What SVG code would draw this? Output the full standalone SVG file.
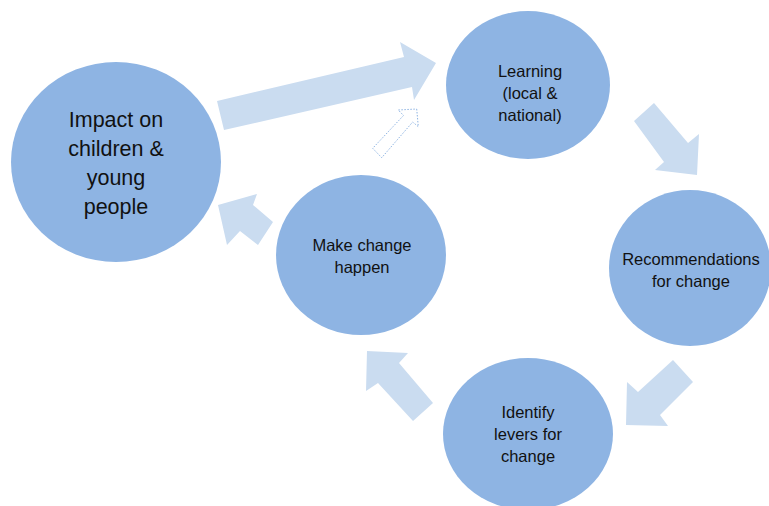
<svg xmlns="http://www.w3.org/2000/svg" width="769" height="506" viewBox="0 0 769 506">
<style>
.node{fill:#8eb4e3}
.arr{fill:#cadcf0;stroke:none}
.dash{fill:#ffffff;stroke:#8eb4e3;stroke-width:1;stroke-dasharray:1.5 1.5}
.t{font-family:"Liberation Sans",Arial,sans-serif;font-size:16.5px;fill:#111;text-anchor:middle}
.big{font-size:21.5px}
</style>
<rect width="769" height="506" fill="#ffffff"/>
<g id="connectors">
<polygon class="arr" points="217,101 404,57 400,42 436,63 414,100 412,87 224,130"/>
<polygon class="dash" points="416.7,109 418.3,126.7 412.7,122 381.7,157.7 372.7,148.3 403.5,115.5 398.3,110"/>
<polygon class="arr" points="634,121 654,103 688,143 699,134 697,175 655,170 664,162"/>
<polygon class="arr" points="673,360 693,382 660,415 668,426 626,425 627,382 638,392"/>
<polygon class="arr" points="367,351 408,353 399,363 433,403 413,421 378,383 366,391"/>
<polygon class="arr" points="218,205 257,194 253,205 273,222 258,245 240,231 227,245"/>
</g>
<g id="impact">
<ellipse class="node" cx="116" cy="162" rx="105" ry="100"/>
<text class="t big" x="116" y="127">Impact on</text>
<text class="t big" x="116" y="156">children &amp;</text>
<text class="t big" x="116" y="185">young</text>
<text class="t big" x="116" y="214">people</text>
</g>
<g id="learning">
<ellipse class="node" cx="528" cy="85" rx="82" ry="74"/>
<text class="t" x="530" y="77">Learning</text>
<text class="t" x="530" y="99">(local &amp;</text>
<text class="t" x="530" y="121">national)</text>
</g>
<g id="recommendations">
<ellipse class="node" cx="690" cy="268" rx="81" ry="78"/>
<text class="t" x="691" y="265">Recommendations</text>
<text class="t" x="691" y="287">for change</text>
</g>
<g id="identify">
<ellipse class="node" cx="528" cy="434" rx="85" ry="76"/>
<text class="t" x="528" y="418">Identify</text>
<text class="t" x="528" y="440">levers for</text>
<text class="t" x="528" y="462">change</text>
</g>
<g id="make">
<ellipse class="node" cx="361" cy="255" rx="85" ry="80"/>
<text class="t" x="362" y="251">Make change</text>
<text class="t" x="362" y="273">happen</text>
</g>
</svg>
